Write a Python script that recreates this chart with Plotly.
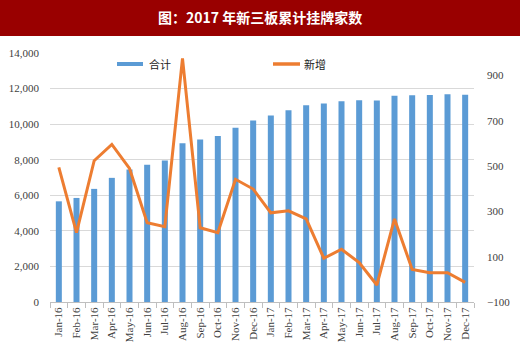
import plotly.graph_objects as go

months = ["Jan-16","Feb-16","Mar-16","Apr-16","May-16","Jun-16","Jul-16","Aug-16","Sep-16","Oct-16","Nov-16","Dec-16",
          "Jan-17","Feb-17","Mar-17","Apr-17","May-17","Jun-17","Jul-17","Aug-17","Sep-17","Oct-17","Nov-17","Dec-17"]
total = [5660, 5850, 6360, 6980, 7450, 7710, 7960, 8920, 9140, 9330, 9800, 10200,
         10480, 10780, 11060, 11160, 11290, 11350, 11330, 11590, 11630, 11640, 11680, 11650]
new_added = [495, 206, 524, 596, 490, 250, 233, 976, 228, 206, 442, 399,
             294, 303, 267, 93, 133, 74, -25, 267, 44, 29, 29, -13]

left_ticks = [0, 2000, 4000, 6000, 8000, 10000, 12000, 14000]
right_ticks = [-100, 100, 300, 500, 700, 900]

title_text = "图：2017 年新三板累计挂牌家数"
legend_names = ["合计", "新增"]

BLUE = "#5B9BD5"
ORANGE = "#ED7D31"
TICKCOL = "#404040"

fig = go.Figure()
fig.add_trace(go.Bar(x=months, y=total, name=legend_names[0], marker_color=BLUE,
                     marker_line_width=0, yaxis="y", showlegend=False))
fig.add_trace(go.Scatter(x=months, y=new_added, name=legend_names[1], mode="lines",
                         line=dict(color=ORANGE, width=3), yaxis="y2", showlegend=False))

W, H = 520, 356
L, R, T, B = 50, 46, 53, 54
pw, ph = W - L - R, H - T - B

def px(x):
    return (x - L) / pw

def py(y):
    return (H - B - y) / ph

shapes = [
    dict(type="rect", xref="paper", yref="paper", x0=px(0), x1=px(W), y0=py(36), y1=py(-2),
         fillcolor="#990000", line_width=0, layer="below"),
    dict(type="rect", xref="paper", yref="paper", x0=px(117), x1=px(143), y0=py(66), y1=py(62),
         fillcolor=BLUE, line_width=0),
    dict(type="line", xref="paper", yref="paper", x0=px(273), x1=px(300), y0=py(64), y1=py(64),
         line=dict(color=ORANGE, width=3.5)),
]
annotations = [
    dict(text=f"<b>{title_text}</b>", xref="paper", yref="paper", x=px(260), y=py(17),
         showarrow=False, font=dict(family="Noto Sans CJK SC", size=14, color="white"),
         xanchor="center", yanchor="middle"),
    dict(text=legend_names[0], xref="paper", yref="paper", x=px(147), y=py(64),
         showarrow=False, font=dict(family="Noto Sans CJK SC", size=11, color="#222"),
         xanchor="left", yanchor="middle"),
    dict(text=legend_names[1], xref="paper", yref="paper", x=px(302), y=py(64),
         showarrow=False, font=dict(family="Noto Sans CJK SC", size=11, color="#222"),
         xanchor="left", yanchor="middle"),
]

tickfont = dict(family="Liberation Serif", size=11, color=TICKCOL)

fig.update_layout(
    width=W, height=H,
    margin=dict(l=L, r=R, t=T, b=B, pad=0, autoexpand=False),
    paper_bgcolor="white", plot_bgcolor="white",
    bargap=0.66,
    shapes=shapes, annotations=annotations,
    xaxis=dict(type="category", tickangle=-90, tickfont=tickfont, showgrid=False,
               showline=True, linecolor="#BFBFBF", linewidth=1, automargin=False,
               ticks="outside", tickson="boundaries", ticklen=5, tickcolor="#BFBFBF",
               range=[-0.5, len(months) - 0.5]),
    yaxis=dict(range=[0, 14000], tickvals=left_ticks, tickformat=",", tickfont=tickfont,
               showgrid=True, gridcolor="#D9D9D9", gridwidth=1, zeroline=False,
               ticks="", ticklabelstandoff=10, automargin=False),
    yaxis2=dict(range=[-100, 1000], tickvals=right_ticks, overlaying="y", side="right",
                tickfont=tickfont, showgrid=False, zeroline=False, ticks="",
                ticklabelstandoff=12, automargin=False),
)

fig.write_html("out.html", config={"displayModeBar": False},
               post_script="document.body.style.margin='0';document.body.style.padding='0';")
